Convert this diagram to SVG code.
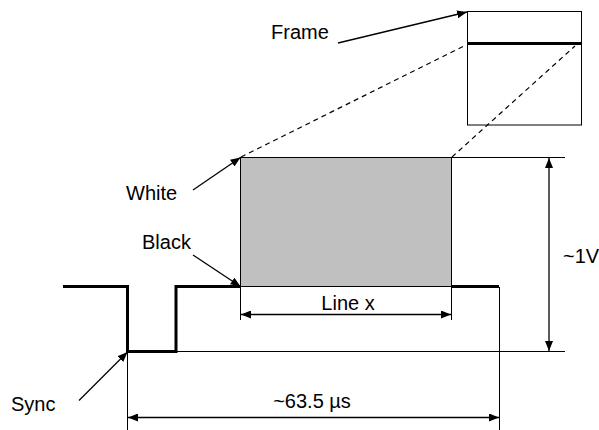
<svg xmlns="http://www.w3.org/2000/svg" width="599" height="430" viewBox="0 0 599 430">
<style>
text{font-family:"Liberation Sans",Arial,sans-serif;font-size:20px;fill:#000}
.thin{stroke:#000;stroke-width:1;fill:none}
.arr{stroke:#000;stroke-width:1.3;fill:none}
.dash{stroke:#000;stroke-width:1.2;fill:none;stroke-dasharray:5 4}
.sig{stroke:#000;stroke-width:3;fill:none;stroke-linejoin:miter}
</style>
<defs>
<marker id="ah" viewBox="0 0 10 8" refX="10" refY="4" markerWidth="10" markerHeight="8" markerUnits="userSpaceOnUse" orient="auto-start-reverse">
<path d="M0,0 L10,4 L0,8 Z" fill="#000"/>
</marker>
</defs>
<rect width="599" height="430" fill="#fff"/>
<g id="frame">
<rect x="467.5" y="11.5" width="114" height="113.5" fill="#fff" stroke="#000" stroke-width="1"/>
<line x1="467.5" y1="43.5" x2="581.5" y2="43.5" stroke="#000" stroke-width="3"/>
</g>
<g id="pulse">
<rect x="240.5" y="157.5" width="211" height="129" fill="#c0c0c0" stroke="#000" stroke-width="1"/>
<path class="sig" d="M63,286.5 H127.5 V351.5 H176 V286.5 H240.5 M451.5,286.5 H499"/>
</g>
<g id="labels">
<text x="271" y="39">Frame</text>
<text x="126" y="200">White</text>
<text x="142" y="249">Black</text>
<text x="563" y="263">~1V</text>
<text x="348" y="310" text-anchor="middle">Line x</text>
<text x="312" y="408" text-anchor="middle">~63.5 µs</text>
<text x="11" y="411">Sync</text>
</g>
<g id="connectors">
<line class="dash" x1="241" y1="157" x2="466" y2="45"/>
<line class="dash" x1="452" y1="157" x2="575" y2="46"/>
<line class="thin" x1="451.5" y1="157.5" x2="565" y2="157.5"/>
<line class="thin" x1="176" y1="351.5" x2="565" y2="351.5"/>
<line class="thin" x1="240.5" y1="287" x2="240.5" y2="320"/>
<line class="thin" x1="451.5" y1="287" x2="451.5" y2="320"/>
<line class="thin" x1="127.5" y1="352" x2="127.5" y2="430"/>
<line class="thin" x1="499.5" y1="287" x2="499.5" y2="430"/>
<line class="arr" x1="549" y1="158" x2="549" y2="351" marker-start="url(#ah)" marker-end="url(#ah)"/>
<line class="arr" x1="241" y1="314.5" x2="451" y2="314.5" marker-start="url(#ah)" marker-end="url(#ah)"/>
<line class="arr" x1="128" y1="417.5" x2="499" y2="417.5" marker-start="url(#ah)" marker-end="url(#ah)"/>
<line class="arr" x1="338" y1="43" x2="467" y2="12" marker-end="url(#ah)"/>
<line class="arr" x1="193" y1="190" x2="240.5" y2="157.5" marker-end="url(#ah)"/>
<line class="arr" x1="193" y1="255" x2="240.5" y2="286.5" marker-end="url(#ah)"/>
<line class="arr" x1="79" y1="400.5" x2="127.5" y2="352" marker-end="url(#ah)"/>
</g>
</svg>
